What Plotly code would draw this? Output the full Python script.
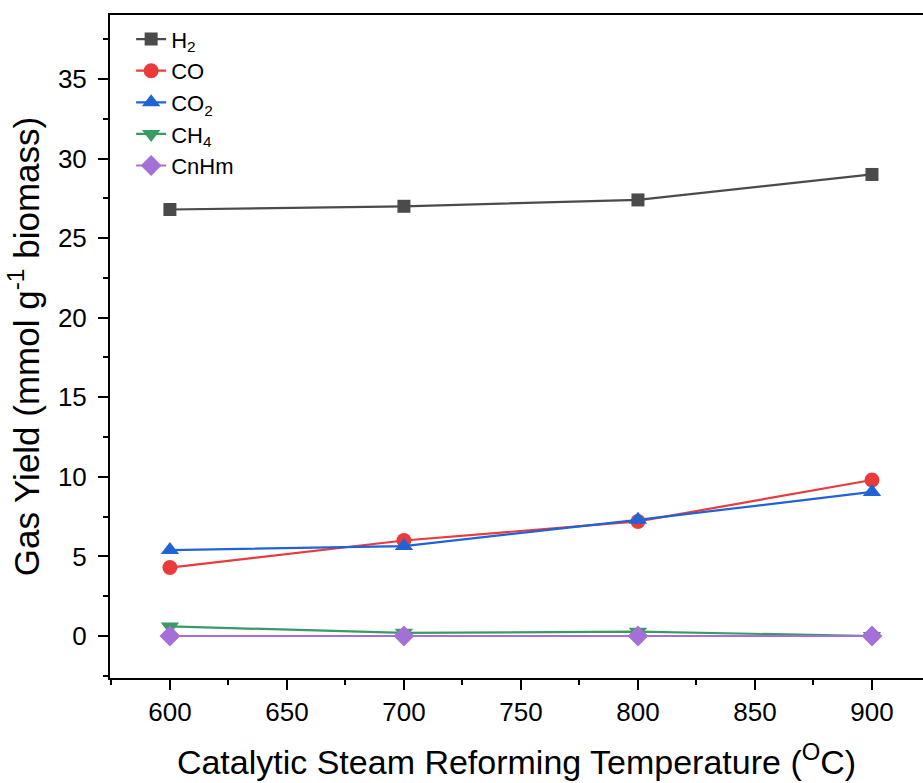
import plotly.graph_objects as go

# Catalytic steam reforming temperature (°C)
temperature = [600, 700, 800, 900]

# Gas yields (mmol g-1 biomass)
h2_yield = [26.8, 27.0, 27.4, 29.0]
co_yield = [4.3, 6.0, 7.2, 9.8]
co2_yield = [5.4, 5.65, 7.3, 9.05]
ch4_yield = [0.6, 0.2, 0.27, 0.0]
cnhm_yield = [0.0, 0.0, 0.0, 0.0]

series_names = ["H<sub>2</sub>", "CO", "CO<sub>2</sub>", "CH<sub>4</sub>", "CnHm"]
series_values = [h2_yield, co_yield, co2_yield, ch4_yield, cnhm_yield]
series_colors = ["#4b4b4b", "#e93b3b", "#1f63d6", "#3a9b62", "#a56fd8"]
series_symbols = ["square", "circle", "triangle-up", "triangle-down", "diamond"]
series_sizes = [13, 15, 16, 16, 16]

x_ticks = [600, 650, 700, 750, 800, 850, 900]
y_ticks = [0, 5, 10, 15, 20, 25, 30, 35]

font_family = "Liberation Sans, Arial, sans-serif"

fig = go.Figure()
for name, vals, color, sym, size in zip(series_names, series_values,
                                        series_colors, series_symbols, series_sizes):
    fig.add_trace(go.Scatter(
        x=temperature, y=vals, name=name, mode="lines+markers",
        line=dict(color=color, width=2.2),
        marker=dict(symbol=sym, size=size, color=color, line=dict(width=0)),
    ))

axis_common = dict(
    showline=True, linecolor="black", linewidth=2,
    ticks="outside", ticklen=10, tickwidth=2, tickcolor="black",
    showgrid=False, zeroline=False,
    tickfont=dict(family=font_family, size=26, color="black"),
)

fig.update_layout(
    width=923, height=783,
    margin=dict(l=110, r=0, t=15, b=105),
    paper_bgcolor="white", plot_bgcolor="white",
    font=dict(family=font_family, color="black"),
    xaxis=dict(
        range=[574.4, 921.8], tickvals=x_ticks, mirror=True,
        minor=dict(ticks="outside", ticklen=5, tickwidth=2, tickcolor="black", dtick=25),
        title=dict(text="Catalytic Steam Reforming Temperature (<sup>O</sup>C)",
                   font=dict(family=font_family, size=34, color="black"), standoff=24),
        **axis_common,
    ),
    yaxis=dict(
        range=[-2.64, 39.02], tickvals=y_ticks, mirror=False,
        ticklabelstandoff=6,
        minor=dict(ticks="outside", ticklen=5, tickwidth=2, tickcolor="black", dtick=2.5),
        title=dict(text="Gas Yield (mmol g<sup>-1</sup> biomass)",
                   font=dict(family=font_family, size=35, color="black"), standoff=8),
        **axis_common,
    ),
    legend=dict(
        x=0.026, y=0.995, xanchor="left", yanchor="top",
        bgcolor="rgba(0,0,0,0)", borderwidth=0,
        font=dict(family=font_family, size=22, color="black"),
        tracegroupgap=0, itemsizing="trace",
    ),
    showlegend=True,
)

fig.write_html("out.html")
